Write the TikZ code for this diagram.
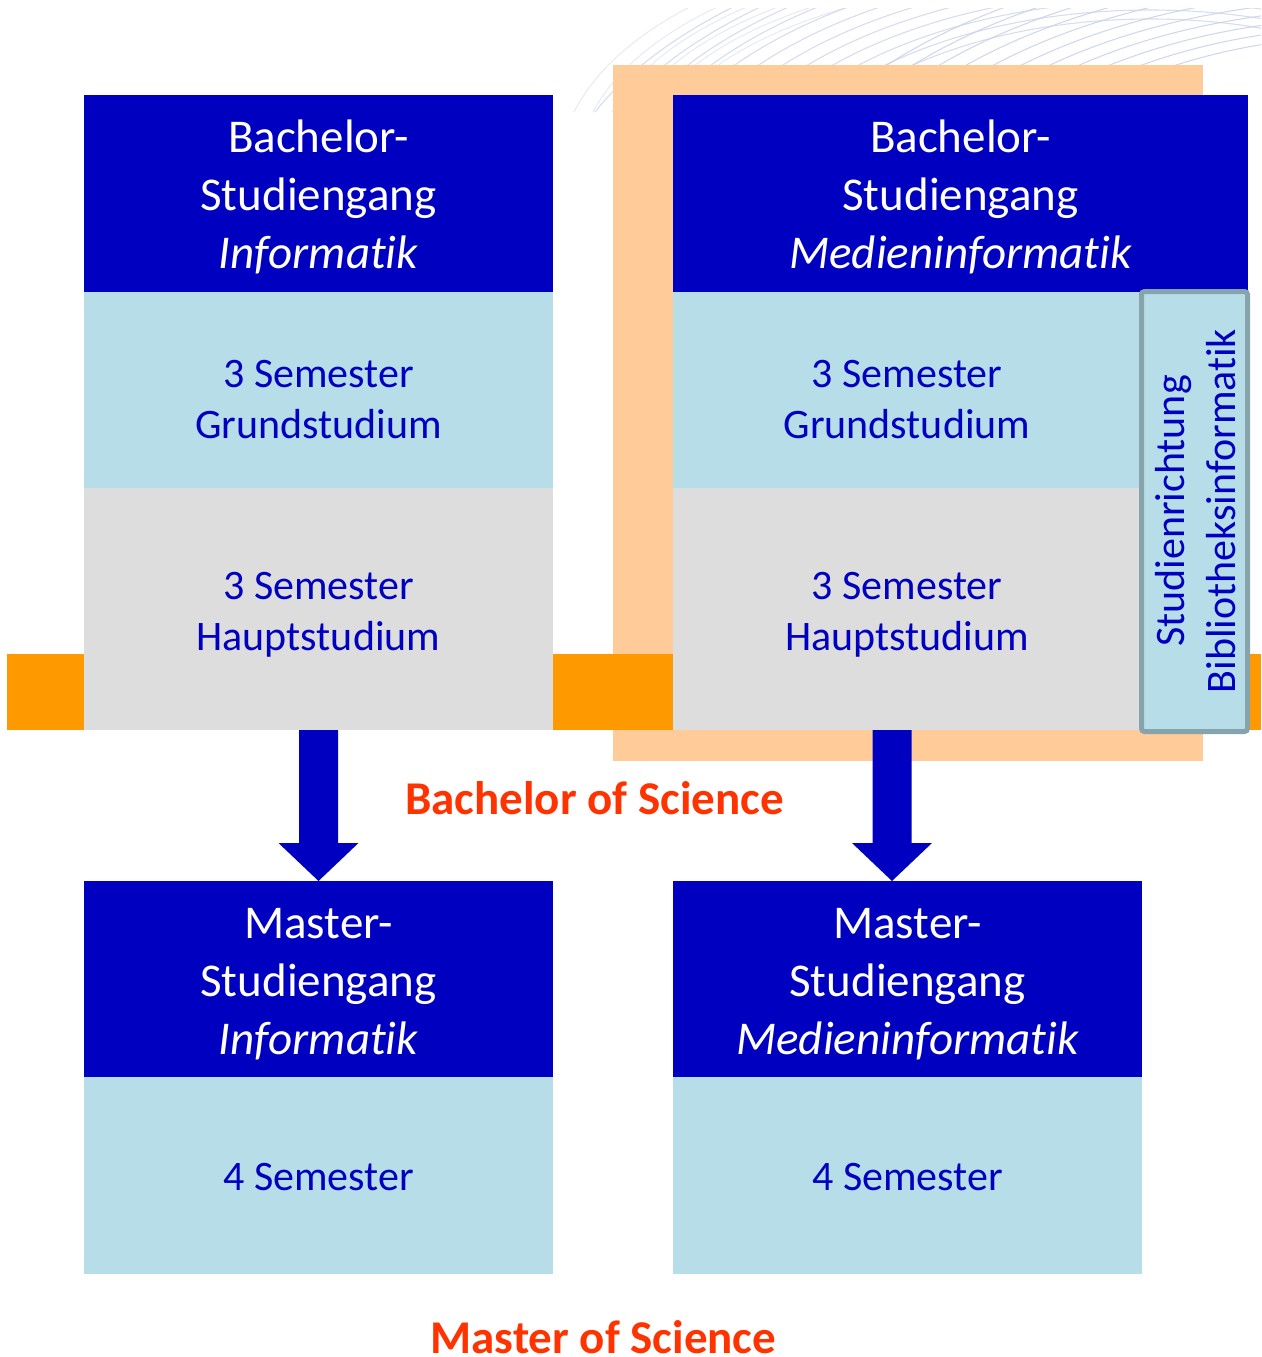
\documentclass[tikz,border=0pt]{standalone}
\usepackage{fontspec}
\setmainfont[Ligatures=NoCommon]{Carlito}
\usetikzlibrary{calc}
\definecolor{dkblue}{HTML}{0000C0}
\definecolor{ltblue}{HTML}{B7DEE8}
\definecolor{ltgray}{HTML}{DDDDDD}
\definecolor{peach}{HTML}{FFCC99}
\definecolor{orangebar}{HTML}{FF9900}
\definecolor{redtxt}{HTML}{FF3300}
\definecolor{bordergray}{HTML}{87A3AB}
\definecolor{swirl}{HTML}{C9D1E8}
\tikzset{
  blk/.style={anchor=north west, inner sep=0pt, outer sep=0pt, draw=none},
  hdr/.style={blk, fill=dkblue},
  lbl/.style={blk, fill=ltblue},
  gbl/.style={blk, fill=ltgray},
  hdrtxt/.style={inner sep=0pt, align=center, text=white, font=\fontsize{47}{58}\selectfont},
  semtxt/.style={inner sep=0pt, align=center, text=dkblue, font=\fontsize{42}{51}\selectfont},
  degtxt/.style={inner sep=0pt, text=redtxt, font=\bfseries\fontsize{47}{56}\selectfont},
  bigarrow/.style={fill=dkblue}
}
\begin{document}
\begin{tikzpicture}[x=1pt,y=-1pt]
\useasboundingbox (0,0) rectangle (1261,1357);
% decorative swirls
\begin{scope}
  \clip (550,8) -- (1261,8) -- (1261,300) -- (1248,300) -- (1248,112) -- (550,112) -- cycle;
  \foreach \i in {0,...,11} {
    \draw[swirl, line width=1.1pt, opacity=0.75] (1150,230) ellipse ({600-20*\i} and {310-9*\i});
  }
  \foreach \i in {0,...,10} {
    \draw[swirl, line width=1.1pt, opacity=0.85] (1380,250) ellipse ({400+22*\i} and {215+9*\i});
  }
  \foreach \i in {0,...,5} {
    \draw[swirl, line width=1pt, opacity=0.45] ({1000+12*\i},170) ellipse ({440-6*\i} and {230-8*\i});
  }
\end{scope}
% background bands
\node[blk, fill=peach, minimum width=590pt, minimum height=696pt] (peachbg) at (613,65) {};
\node[blk, fill=orangebar, minimum width=1254pt, minimum height=76pt] (obar) at (7,654) {};
% Bachelor Informatik
\node[hdr, minimum width=469pt, minimum height=197pt] (bih) at (84,95) {};
\node[lbl, minimum width=469pt, minimum height=196pt] (big) at (84,292) {};
\node[gbl, minimum width=469pt, minimum height=242pt] (bil) at (84,488) {};
% Bachelor Medieninformatik
\node[hdr, minimum width=575pt, minimum height=197pt] (bmh) at (673,95) {};
\node[lbl, minimum width=540pt, minimum height=196pt] (bmg) at (673,292) {};
\node[gbl, minimum width=540pt, minimum height=242pt] (bml) at (673,488) {};
% Studienrichtung box
\node[draw=bordergray, line width=5pt, fill=ltblue, rounded corners=3pt, minimum width=106pt, minimum height=440pt, inner sep=0pt] (vbox) at (1194.5,511.5) {};
% Master boxes
\node[hdr, minimum width=469pt, minimum height=196pt] (mih) at (84,881) {};
\node[lbl, minimum width=469pt, minimum height=197pt] (mil) at (84,1077) {};
\node[hdr, minimum width=469pt, minimum height=196pt] (mmh) at (673,881) {};
\node[lbl, minimum width=469pt, minimum height=197pt] (mml) at (673,1077) {};
% arrows
\coordinate (a2s) at (892,730);
\coordinate (a2e) at (892,881);
\fill[bigarrow] ($(bil.south)+(-19.5,0)$) -- ($(bil.south)+(19.5,0)$) -- ($(mih.north)+(19.5,-38)$) -- ($(mih.north)+(40,-38)$) -- (mih.north) -- ($(mih.north)+(-40,-38)$) -- ($(mih.north)+(-19.5,-38)$) -- cycle;
\fill[bigarrow] ($(a2s)+(-19.5,0)$) -- ($(a2s)+(19.5,0)$) -- ($(a2e)+(19.5,-38)$) -- ($(a2e)+(40,-38)$) -- (a2e) -- ($(a2e)+(-40,-38)$) -- ($(a2e)+(-19.5,-38)$) -- cycle;
% texts
\node[hdrtxt] (bih-t) at (318.5,197) {Bachelor-\\Studiengang\\\itshape Informatik};
\node[hdrtxt] (bmh-t) at (960.5,197) {Bachelor-\\Studiengang\\\itshape Medieninformatik};
\node[semtxt] (big-t) at (318.5,400) {3 Semester\\Grundstudium};
\node[semtxt] (bil-t) at (318.5,615) {3 Semester\\Hauptstudium};
\node[semtxt] (bmg-t) at (907,400) {3 Semester\\Grundstudium};
\node[semtxt] (bml-t) at (907,615) {3 Semester\\Hauptstudium};
\node[semtxt, rotate=90] (vbox-t) at (1196,511) {Studienrichtung\\Bibliotheksinformatik};
\node[hdrtxt] (mih-t) at (318.5,984) {Master-\\Studiengang\\\itshape Informatik};
\node[hdrtxt] (mmh-t) at (907.5,984) {Master-\\Studiengang\\\itshape Medieninformatik};
\node[semtxt] (mil-t) at (318.5,1177) {4 Semester};
\node[semtxt] (mml-t) at (907.5,1177) {4 Semester};
\node[degtxt] (bsc) at (594.5,798) {Bachelor of Science};
\node[degtxt] (msc) at (603.5,1337) {Master of Science};
\end{tikzpicture}
\end{document}
